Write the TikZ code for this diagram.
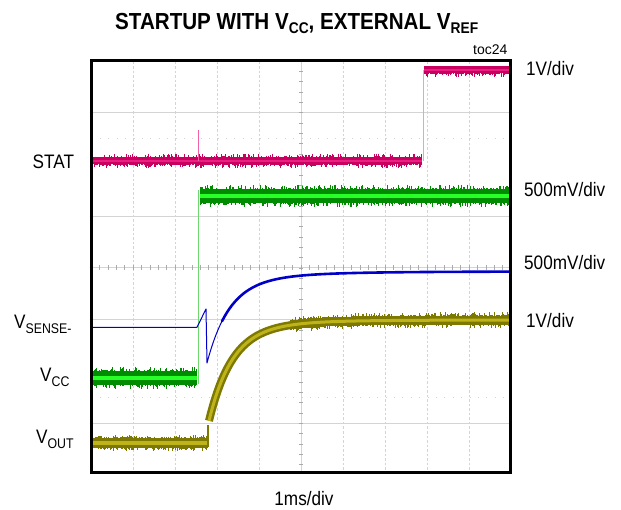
\documentclass[tikz,border=0pt]{standalone}
\usepackage{fontspec}
\setmainfont{Liberation Sans}
\usepackage{graphicx}
\definecolor{statout}{RGB}{200,0,95}
\definecolor{statin}{RGB}{235,30,130}
\definecolor{statstep}{RGB}{235,160,200}
\definecolor{vccout}{RGB}{0,140,0}
\definecolor{vccin}{RGB}{40,255,40}
\definecolor{vccstep}{RGB}{110,215,110}
\definecolor{vsen}{RGB}{0,0,200}
\definecolor{voutout}{RGB}{125,120,0}
\definecolor{voutin}{RGB}{190,180,25}
\definecolor{gridc}{RGB}{212,212,212}
\newcommand\nar[1]{\scalebox{0.88}[1]{#1}}
\newcommand\lsub[1]{\raisebox{-5pt}{\fontsize{14}{14}\selectfont #1}}
\newcommand\tsub[1]{\raisebox{-4.7pt}{\fontsize{15.5}{15.5}\selectfont #1}}
\begin{document}
\begin{tikzpicture}[x=1pt,y=-1pt,
  lab/.style={inner sep=0pt,font=\fontsize{19.5}{19.5}\selectfont},
  gridsolid/.style={gridc,line width=0.8pt},
  griddash/.style={gridc,line width=0.8pt,dash pattern=on 2.5pt off 2pt},
  griddot/.style={gridc,line width=1pt,dash pattern=on 1pt off 7.4pt},
  tick/.style={gridc!80!black,line width=0.6pt},
  noise/.style={line width=0.5pt}]
\useasboundingbox (0,0) rectangle (621,510);
\fill[white] (0,0) rectangle (621,510);
% grid
\foreach \gx in {133,175,217,259,343,385,427,469}
  \draw[griddash] (\gx,62) -- (\gx,471);
\foreach \gy in {112.5,216,319.5,423}
  \draw[gridsolid] (92,\gy) -- (509,\gy);
\foreach \gy in {138.4,397.1}
  \draw[griddot] (100,\gy) -- (509,\gy);
\draw[gridsolid] (92,267.75) -- (509,267.75);
\draw[gridsolid] (301,62) -- (301,471);
\foreach \tx in {99.4,107.8,...,508}
  \draw[tick] (\tx,265.5) -- (\tx,270);
\foreach \ty in {71.35,81.7,...,471}
  \draw[tick] (298.8,\ty) -- (303.2,\ty);
% ---------- STAT ----------
\pgfmathsetseed{4242}
\foreach \xx in {92.5,93.5,...,421.5}{
  \pgfmathsetmacro\ua{3.5+4*rnd^3}
  \pgfmathsetmacro\da{3.5+4*rnd^3}
  \draw[statout,noise] (\xx,161-\ua) -- (\xx,161+\da);
}
\foreach \xx in {424.5,425.5,...,508.5}{
  \pgfmathsetmacro\da{3.5+4*rnd^3}
  \draw[statout,noise] (\xx,66.5) -- (\xx,70+\da);
}
\draw[statout,line width=7pt] (92,161) -- (422,161);
\draw[statin,line width=2.5pt] (92,161) -- (422,161);
\draw[statstep,line width=1pt] (423,161) -- (423,70);
\draw[statout,line width=7pt] (424,70) -- (509,70);
\draw[statin,line width=2.5pt] (424,70) -- (509,70);
\draw[statin!70!white,line width=1pt] (198.5,161) -- (198.5,130);
% ---------- VCC ----------
\foreach \xx in {92.5,93.5,...,196.5}{
  \pgfmathsetmacro\ua{7+4.5*rnd^3}
  \pgfmathsetmacro\da{7+4.5*rnd^3}
  \draw[vccout,noise] (\xx,378-\ua) -- (\xx,378+\da);
}
\foreach \xx in {200.5,201.5,...,508.5}{
  \pgfmathsetmacro\ua{7+4.5*rnd^3}
  \pgfmathsetmacro\da{7+4.5*rnd^3}
  \draw[vccout,noise] (\xx,196-\ua) -- (\xx,196+\da);
}
\draw[vccout,line width=14pt] (92,378) -- (197,378);
\draw[vccin,line width=4pt] (92,378) -- (197,378);
\draw[vccstep,line width=0.9pt] (198.7,384) -- (198.7,190);
\draw[vccout,line width=14pt] (200,196) -- (509,196);
\draw[vccin,line width=4pt] (200,196) -- (509,196);
% ---------- VSENSE ----------
\draw[vsen,line width=1pt,line join=round]
  (92,327.3) -- (197,327.3) -- (206,309) -- (207,362.7)
  -- plot[domain=207:222,samples=16]
     (\x,{271.5+80*exp(-(\x-207)/22)+11.5*exp(-(\x-207)/70)});
\draw[vsen,line width=2.6pt,line join=round,line cap=round]
  plot[domain=222:509,samples=120]
     (\x,{271.5+80*exp(-(\x-207)/22)+11.5*exp(-(\x-207)/70)});
% ---------- VOUT ----------
\foreach \xx in {92.5,93.5,...,207.5}{
  \pgfmathsetmacro\ua{5+3*rnd^3}
  \pgfmathsetmacro\da{5+3*rnd^3}
  \draw[voutout,noise] (\xx,443-\ua) -- (\xx,443+\da);
}
\foreach \xx in {290.5,291.5,...,508.5}{
  \pgfmathsetmacro\ua{4.5+3.5*rnd^3}
  \pgfmathsetmacro\da{4.5+3.5*rnd^3}
  \pgfmathsetmacro\yc{320+95*exp(-(\xx-208)/23)+10*exp(-(\xx-208)/60)}
  \draw[voutout,noise] (\xx,\yc-\ua) -- (\xx,\yc+\da);
}
\draw[voutout,line width=10pt] (92,443) -- (207,443);
\draw[voutin,line width=3.5pt] (92,443) -- (207,443);
\draw[voutout,line width=1.5pt] (208,447) -- (208,425);
\draw[voutout,line width=8pt,line join=round]
  plot[domain=209:509,samples=150]
     (\x,{320+95*exp(-(\x-208)/23)+10*exp(-(\x-208)/60)});
\draw[voutin,line width=3pt,line join=round]
  plot[domain=209:509,samples=150]
     (\x,{320+95*exp(-(\x-208)/23)+10*exp(-(\x-208)/60)});
% frame
\draw[line width=3pt] (91,61) rectangle (510,472);
% texts
\node[inner sep=0pt,anchor=base west] (title) at (115,29.3)
  {\resizebox{363pt}{\height}{\fontsize{23.2}{23.2}\selectfont\bfseries STARTUP WITH V\tsub{CC}, EXTERNAL V\tsub{REF}}};
\node[inner sep=0pt,anchor=base west,font=\fontsize{14}{14}\selectfont] (toc) at (473,55) {toc24};
\node[lab,anchor=base west] (lstat) at (32.5,168.8) {\nar{STAT}};
\node[lab,anchor=base west] (lsense) at (14,328.3) {\nar{V\lsub{SENSE-}}};
\node[lab,anchor=base west] (lvcc) at (40,381.7) {\nar{V\lsub{CC}}};
\node[lab,anchor=base west] (lvout) at (36,443) {\nar{V\lsub{OUT}}};
\node[lab,anchor=base west] (r1) at (526,75.3) {\nar{1V/div}};
\node[lab,anchor=base west] (r2) at (524,197) {\nar{500mV/div}};
\node[lab,anchor=base west] (r3) at (524,270) {\nar{500mV/div}};
\node[lab,anchor=base west] (r4) at (526,327.7) {\nar{1V/div}};
\node[lab,anchor=base] (xlab) at (304,505) {\nar{1ms/div}};
\end{tikzpicture}
\end{document}
